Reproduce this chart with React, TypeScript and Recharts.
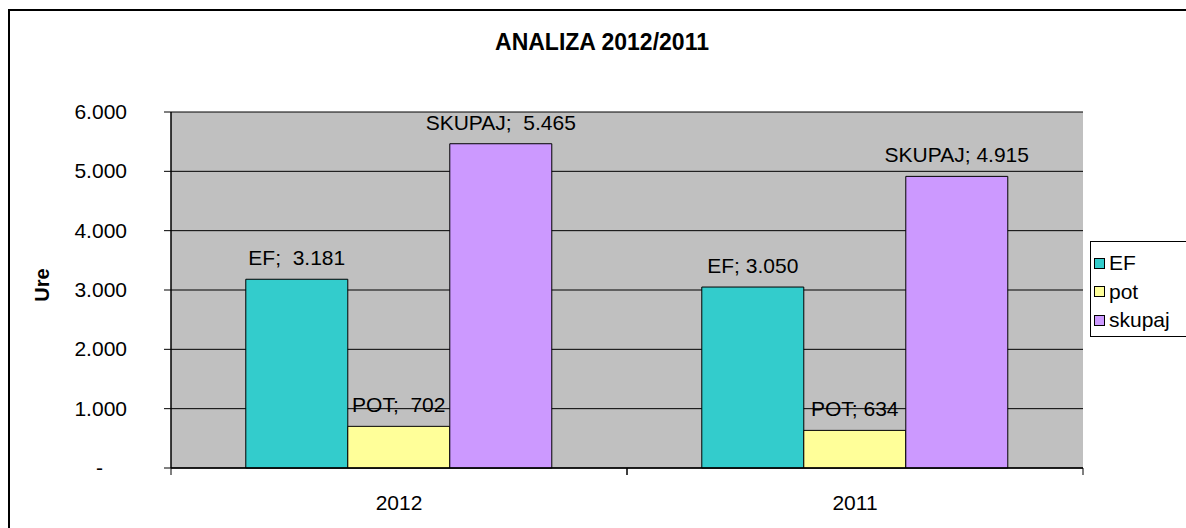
import React from 'react';
import { BarChart, Bar, XAxis, YAxis, CartesianGrid, LabelList } from 'recharts';

const years = ['2012', '2011'];
const efValues = [3181, 3050];
const potValues = [702, 634];
const skupajValues = [5465, 4915];
// separator between name and value in the data labels, as printed
const labelSeps = [';  ', '; '];
const yTicks = [0, 1000, 2000, 3000, 4000, 5000, 6000];

const seriesList = [
  { key: 'ef', name: 'EF', label: 'EF', color: '#33CCCC' },
  { key: 'pot', name: 'pot', label: 'POT', color: '#FFFF99' },
  { key: 'skupaj', name: 'skupaj', label: 'SKUPAJ', color: '#CC99FF' },
];

const data = years.map((year, i) => ({
  year,
  ef: efValues[i],
  pot: potValues[i],
  skupaj: skupajValues[i],
  sep: labelSeps[i],
}));

const FONT = '"Liberation Sans", Arial, sans-serif';
const W = 1186;
const H = 528;
const M = { top: 112, right: 103, left: 71, bottom: 30 };
const Y_AXIS_W = 100;
const X_AXIS_H = 30;
const PLOT_W = W - M.left - Y_AXIS_W - M.right;
const HALF_BAND = PLOT_W / years.length / 2;

function fmt(v: number) {
  return String(Math.round(v)).replace(/\B(?=(\d{3})+(?!\d))/g, '.');
}

function YTick(props: any) {
  const { x, y, payload } = props;
  const v = payload.value as number;
  return (
    <text
      x={v === 0 ? x - 24 : x}
      y={y}
      dy={7}
      textAnchor="end"
      fontSize={21}
      fontFamily={FONT}
      fill="#000"
    >
      {v === 0 ? '-' : fmt(v)}
    </text>
  );
}

function XTick(props: any) {
  const { x, y, payload } = props;
  // y comes in below the axis by tickSize + tickMargin
  const axisY = y - 8;
  return (
    <g>
      <line x1={x - HALF_BAND} x2={x - HALF_BAND} y1={axisY} y2={axisY + 7} stroke="#000" />
      <line x1={x + HALF_BAND} x2={x + HALF_BAND} y1={axisY} y2={axisY + 7} stroke="#000" />
      <text x={x} y={axisY + 42} textAnchor="middle" fontSize={21} fontFamily={FONT} fill="#000">
        {payload.value}
      </text>
    </g>
  );
}

function makeLabel(prefix: string) {
  return (props: any) => {
    const { x, y, width, value, index } = props;
    return (
      <text
        x={Number(x) + Number(width) / 2}
        y={Number(y) - 14}
        textAnchor="middle"
        fontSize={21}
        fontFamily={FONT}
        fill="#000"
        style={{ whiteSpace: 'pre' }}
      >
        {prefix + data[index].sep + fmt(Number(value))}
      </text>
    );
  };
}

export default function App() {
  return (
    <div
      style={{
        position: 'fixed',
        left: 0,
        top: 0,
        width: W,
        height: H,
        overflow: 'hidden',
        background: '#fff',
        fontFamily: FONT,
      }}
    >
      <div
        style={{
          position: 'absolute',
          left: 8,
          top: 9,
          width: 1300,
          height: 600,
          border: '2px solid #000',
        }}
      />
      <div
        style={{
          position: 'absolute',
          left: 0,
          width: 1204,
          top: 29,
          textAlign: 'center',
          fontSize: 23,
          fontWeight: 'bold',
        }}
      >
        ANALIZA 2012/2011
      </div>
      <div
        style={{
          position: 'absolute',
          left: 42,
          top: 285,
          transform: 'translate(-50%, -50%) rotate(-90deg)',
          fontSize: 20,
          fontWeight: 'bold',
        }}
      >
        Ure
      </div>
      <div style={{ position: 'absolute', left: 0, top: 0 }}>
        <BarChart
          width={W}
          height={H}
          data={data}
          margin={M}
          barGap={0}
          barCategoryGap="16.4%"
        >
          <CartesianGrid fill="#C0C0C0" stroke="#000" vertical={false} />
          <XAxis
            dataKey="year"
            height={X_AXIS_H}
            axisLine={{ stroke: '#000', strokeWidth: 1.5 }}
            tickLine={false}
            tick={<XTick />}
            interval={0}
          />
          <YAxis
            width={Y_AXIS_W}
            domain={[0, 6000]}
            ticks={yTicks}
            interval={0}
            axisLine={{ stroke: '#000', strokeWidth: 1.5 }}
            tickLine={{ stroke: '#000' }}
            tickSize={7}
            tickMargin={37}
            tick={<YTick />}
          />
          {seriesList.map((s) => (
            <Bar
              key={s.key}
              dataKey={s.key}
              name={s.name}
              fill={s.color}
              stroke="#000"
              strokeWidth={1}
              isAnimationActive={false}
            >
              <LabelList dataKey={s.key} content={makeLabel(s.label)} />
            </Bar>
          ))}
        </BarChart>
      </div>
      <div
        style={{
          position: 'absolute',
          left: 1090,
          top: 241,
          width: 120,
          height: 96,
          border: '1px solid #000',
          background: '#fff',
          boxSizing: 'border-box',
          paddingTop: 7,
        }}
      >
        {seriesList.map((s) => (
          <div
            key={s.key}
            style={{ display: 'flex', alignItems: 'center', height: 28.5, fontSize: 21 }}
          >
            <span
              style={{
                display: 'inline-block',
                width: 9,
                height: 9,
                marginLeft: 3,
                marginRight: 4,
                background: s.color,
                border: '1px solid #000',
              }}
            />
            <span>{s.name}</span>
          </div>
        ))}
      </div>
    </div>
  );
}
